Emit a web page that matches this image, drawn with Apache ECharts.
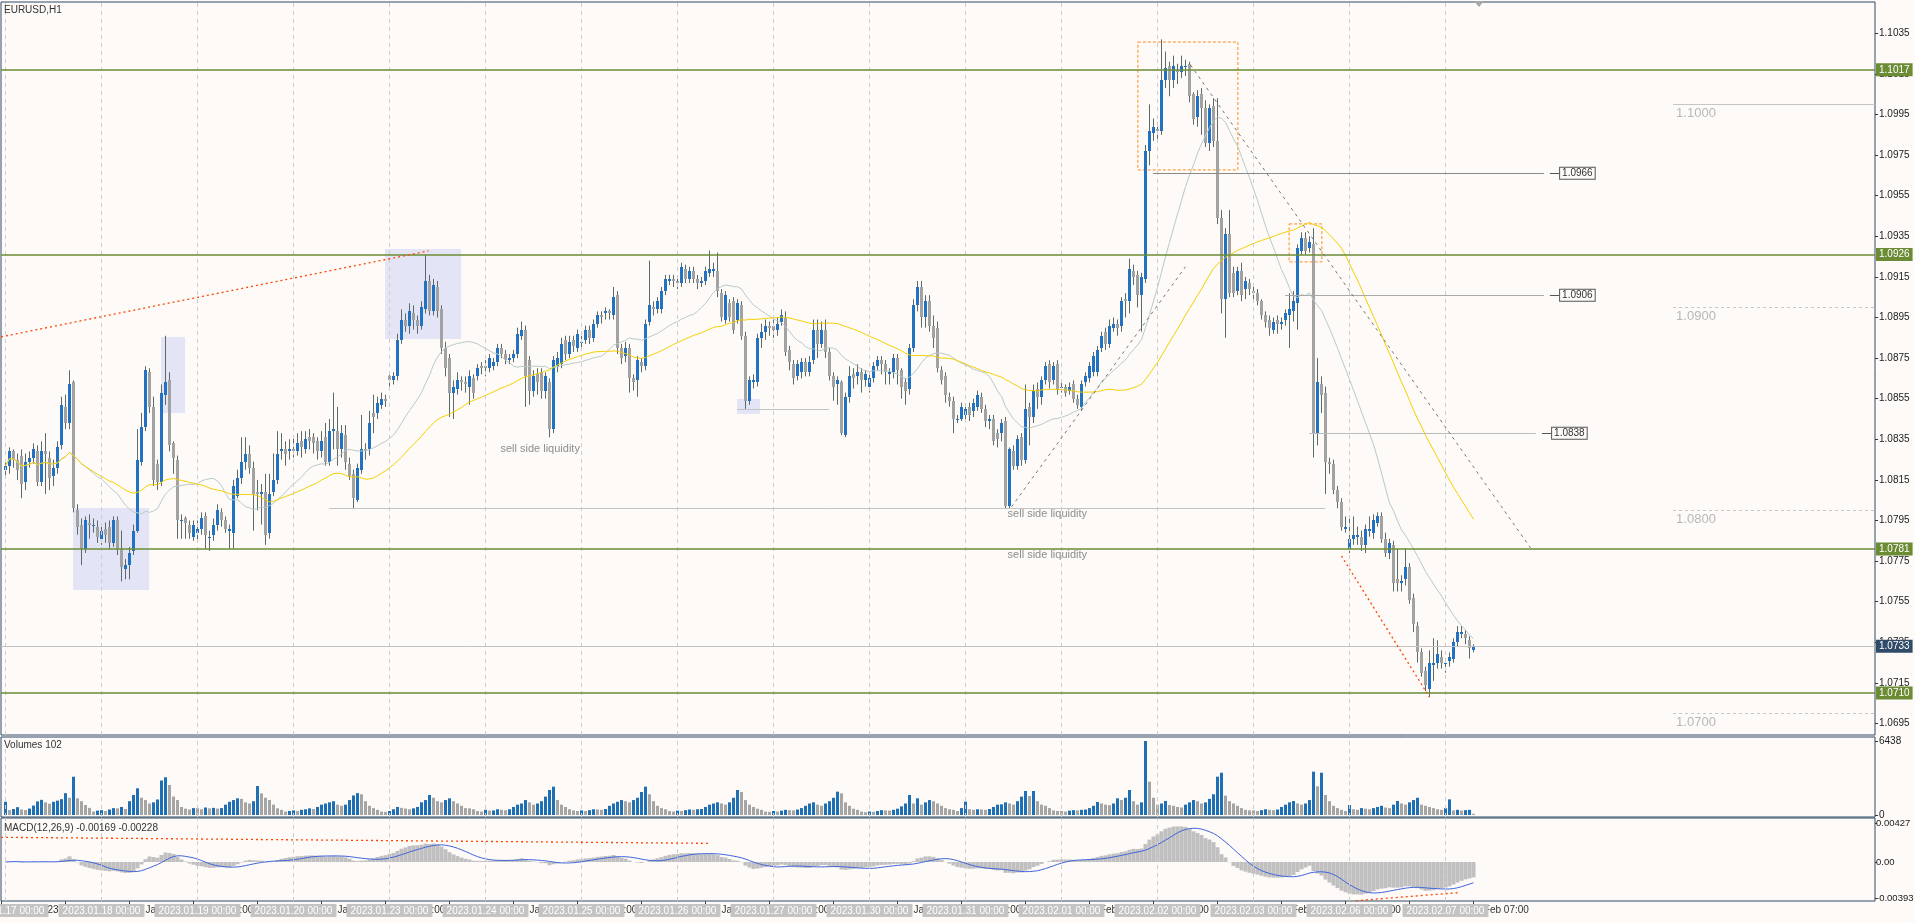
<!DOCTYPE html>
<html><head><meta charset="utf-8">
<script src="https://cdn.jsdelivr.net/npm/echarts@6/dist/echarts.min.js"></script>
<style>html,body{margin:0;padding:0;background:#fdfaf8;}#c{width:1915px;height:923px;}</style>
</head><body><div id="c"></div>
<script>
// ---- DATA (prices in pips above 1.0000, e.g. 822 = 1.0822) ----
const dayDates = ['2023.01.17','2023.01.18','2023.01.19','2023.01.20','2023.01.23','2023.01.24','2023.01.25','2023.01.26','2023.01.27','2023.01.30','2023.01.31','2023.02.01','2023.02.02','2023.02.03','2023.02.06','2023.02.07'];
const dayShort = ['17 Jan','18 Jan','19 Jan','20 Jan','23 Jan','24 Jan','25 Jan','26 Jan','27 Jan','30 Jan','31 Jan','1 Feb','2 Feb','3 Feb','6 Feb','7 Feb'];
const opens = [
820,822,829,825,827,814,824,826,829,814,829,826,817,821,832,851,843,863,800,793,781,794,793,792,
786,791,792,784,795,781,771,773,780,790,824,841,868,851,823,814,857,864,833,825,795,796,793,787,
789,791,797,787,788,793,799,795,790,789,807,816,824,828,821,809,808,809,789,809,815,829,830,829,
830,829,834,830,836,836,834,829,836,824,839,839,830,837,823,818,805,820,830,830,848,848,852,855,
866,864,866,884,894,891,897,894,891,899,913,898,910,899,880,875,858,860,864,863,861,865,866,871,
871,870,871,873,880,877,874,875,877,886,889,874,859,867,868,859,863,840,871,872,884,877,884,880,
883,884,889,885,892,896,897,898,896,906,880,876,880,865,864,873,871,893,900,899,899,908,913,914,
913,912,919,914,918,914,912,913,917,918,918,907,894,902,903,894,901,886,854,863,863,885,888,891,
891,889,893,895,879,872,866,868,873,868,874,889,882,889,878,866,862,863,837,856,867,866,868,864,
861,865,871,874,872,867,868,875,869,863,860,880,901,910,895,903,891,890,869,866,856,854,845,845,
847,851,849,851,856,850,844,845,838,838,844,802,829,822,836,825,851,846,860,856,864,872,864,872,
861,861,859,862,855,851,863,865,868,868,880,888,882,890,892,891,904,903,918,916,906,914,977,986,
988,987,1012,1019,1012,1017,1016,1019,1020,1005,994,1005,998,981,999,982,944,904,936,917,908,918,909,912,
908,907,903,896,894,889,894,892,894,896,898,902,928,934,929,931,838,862,858,824,823,810,804,791,
781,786,787,787,783,790,789,794,797,786,779,783,766,764,766,772,757,743,730,721,712,724,725,728,
725,726,727,735,739,739,736,731];
const closes = [
822,829,825,820,813,824,826,830,814,829,828,816,821,831,852,843,862,801,792,781,795,793,793,787,
790,788,784,795,781,772,773,779,790,825,841,869,851,815,814,858,863,832,826,795,795,794,789,793,
791,796,788,787,793,800,795,791,791,812,816,824,828,821,808,808,809,788,808,815,828,830,828,830,
829,833,831,835,834,833,829,834,824,839,840,830,838,824,817,806,821,830,829,843,846,853,855,854,
864,866,884,894,891,898,894,891,900,913,898,911,898,880,870,858,861,864,863,862,866,858,870,870,
870,875,873,880,877,874,875,877,887,889,866,859,866,863,859,866,840,874,875,882,877,883,881,887,
883,889,885,892,896,895,898,897,905,880,875,880,865,863,874,871,892,901,899,903,908,914,914,913,
912,920,914,918,914,912,913,918,919,919,908,895,906,895,889,902,886,854,864,864,885,888,891,890,
889,892,896,878,873,865,872,873,868,873,889,882,889,878,866,861,864,838,856,866,865,868,864,867,
865,871,874,872,868,868,875,869,861,859,880,901,910,895,903,891,885,870,864,857,854,845,845,851,
850,847,853,857,850,844,845,834,835,843,802,830,822,835,825,850,846,859,856,864,871,863,871,860,
861,858,861,855,852,862,866,871,876,879,886,882,891,892,890,903,903,919,915,906,915,977,987,989,
987,1012,1018,1012,1019,1016,1019,1019,1004,993,1004,998,981,998,982,944,904,936,907,907,918,906,913,909,
907,903,896,893,890,893,892,893,897,899,903,929,934,928,932,838,863,857,824,823,810,804,792,792,
786,788,788,783,791,791,795,797,786,779,784,764,764,765,772,756,744,730,720,714,725,725,729,725,
725,728,735,740,740,737,732,733];
const lows = [
817,818,821,815,806,810,821,823,812,812,808,810,812,818,830,840,840,799,788,773,779,786,789,784,
783,784,781,782,778,765,766,766,778,789,822,839,848,812,810,812,852,829,818,786,786,786,786,785,
785,788,781,780,785,790,792,789,781,781,806,813,820,818,790,800,793,783,786,807,813,825,822,825,
826,827,826,828,830,828,825,826,822,822,830,822,826,820,815,801,804,818,825,827,838,845,850,851,
861,862,864,882,888,887,889,887,889,897,896,896,895,877,866,846,845,857,859,858,852,855,864,867,
866,868,869,871,875,872,872,873,875,884,851,852,856,857,855,855,836,838,868,870,874,875,878,878,
880,882,882,883,890,892,894,894,894,877,872,873,858,859,856,868,869,891,896,897,897,906,911,910,
909,910,912,912,912,909,910,911,915,915,905,893,892,893,887,892,884,850,852,860,861,880,884,886,
885,886,891,876,869,862,864,865,866,866,872,875,880,875,864,854,852,837,836,853,860,862,858,861,
858,863,869,867,862,862,865,862,855,852,857,878,898,890,890,888,880,868,862,853,851,838,843,844,
845,844,846,849,848,841,840,832,831,834,801,801,820,820,822,823,832,843,850,852,862,860,862,857,
858,856,857,853,850,849,861,863,866,866,878,879,880,888,886,888,895,897,911,900,888,912,970,982,
983,985,1008,1004,1008,1010,1013,1014,1001,990,989,985,979,977,979,941,897,885,905,905,906,903,904,906,
903,901,894,890,886,887,887,889,891,880,893,889,926,926,927,826,832,848,808,818,808,801,790,789,
779,783,783,780,779,787,786,792,784,777,776,760,760,760,763,754,740,725,718,711,708,716,722,722,
720,723,725,733,737,734,727,730];
const highs = [
825,831,830,828,830,828,829,833,832,834,838,829,825,834,856,857,869,864,803,796,797,798,796,795,
793,794,795,797,797,790,776,782,793,840,848,871,870,856,825,862,886,868,834,827,798,797,795,795,
795,799,799,790,796,803,801,797,793,815,820,836,836,832,824,815,813,818,818,828,839,838,834,835,
836,838,839,839,840,838,836,839,843,845,858,851,842,842,826,820,823,847,833,849,857,856,858,857,
867,868,887,899,897,902,901,896,903,926,916,914,913,901,883,877,864,868,866,866,869,867,872,873,
874,877,875,882,882,879,877,879,890,893,891,876,869,870,870,868,865,876,878,885,886,886,886,889,
886,891,891,894,898,898,900,899,910,908,882,883,882,867,876,875,894,923,903,905,910,916,916,916,
915,922,921,920,920,916,915,920,928,922,927,909,908,904,905,904,903,888,866,867,887,892,894,893,
894,895,899,898,881,874,874,875,875,876,894,894,893,894,880,868,866,864,858,871,870,872,870,869,
867,873,876,876,874,870,877,877,870,865,882,904,913,913,906,906,896,893,871,868,858,856,847,853,
852,853,855,859,858,852,847,847,840,845,846,831,832,837,838,862,853,862,863,866,873,874,873,874,
863,862,863,864,857,864,868,873,878,881,888,890,894,895,894,905,907,924,921,918,917,980,1000,993,
991,1032,1026,1021,1024,1020,1024,1022,1021,1006,1007,1008,1002,1000,1003,1003,948,939,948,920,920,922,915,914,
911,909,904,898,896,895,896,895,899,907,908,931,937,937,935,939,875,866,861,826,825,812,806,797,
797,797,792,790,793,797,798,799,799,789,786,785,781,768,781,774,759,745,732,723,731,737,736,731,
727,730,737,743,743,741,738,734];
const volumes = [
1150,430,520,680,480,430,560,820,1180,1320,1100,980,1150,1250,1380,1900,1500,3330,1450,1200,870,620,300,380,
420,350,480,600,580,700,520,1200,1740,2320,1500,1300,1000,1100,1350,3000,3280,2610,1600,1300,700,550,480,600,
600,500,650,580,620,560,600,900,1150,1300,1450,1400,1100,1000,1200,2520,1880,1500,1300,900,580,450,300,350,
400,350,450,500,580,520,700,900,1000,1100,1200,900,800,900,1300,1700,1900,1800,1200,800,600,450,300,280,
350,500,700,620,560,500,580,700,1100,1300,1740,1500,1200,1100,1300,1450,1200,1000,800,600,580,500,350,300,
450,380,400,500,450,420,500,700,900,1000,1300,1100,900,1000,1200,1600,2175,2465,1300,900,700,500,400,350,
400,350,420,500,480,450,520,800,1000,1150,1300,1200,1100,1300,1500,2000,2465,1800,1200,800,600,500,350,300,
380,350,420,480,450,500,520,700,900,1000,1100,1000,900,1100,1500,2175,2000,1300,900,700,550,450,300,280,
350,300,380,450,420,400,480,600,800,1000,1100,900,800,1000,1200,1500,2030,1880,1100,800,550,450,300,250,
300,280,350,420,400,380,450,550,750,1000,1740,1000,1450,900,1100,1300,1200,1000,800,600,500,450,350,600,
1160,500,450,500,480,450,520,700,900,930,1100,1000,900,1200,1600,2090,1650,2090,1200,900,800,600,400,350,
350,300,380,420,400,450,480,600,800,1130,1000,900,850,1000,1450,1300,1500,2175,1200,900,1100,6438,2900,1500,
900,1000,1220,870,800,700,650,900,1100,1300,1200,1000,1100,1400,1800,3335,3680,1680,1200,1000,800,600,450,400,
400,350,420,500,450,420,480,700,900,1100,1220,1000,900,1000,1300,3770,2500,3680,1740,1200,800,600,450,350,
870,500,450,600,550,500,600,700,800,650,600,900,1220,1000,900,1100,1300,1500,900,800,700,600,500,450,
600,1360,400,450,380,420,450,102];
const priceTicks = [1.0695,1.0715,1.0735,1.0755,1.0775,1.0795,1.0815,1.0835,1.0855,1.0875,1.0895,1.0915,1.0935,1.0955,1.0975,1.0995,1.1015,1.1035];
const levelLines = [1.1017, 1.0926, 1.0781, 1.0710];
const lastPrice = 1.0733;
const roundLevels = [1.1000, 1.0900, 1.0800, 1.0700];

// ---- derived ----
const FONT = 'Liberation Sans, Arial, sans-serif';
const P = v => +(1 + v / 10000).toFixed(5);
const N = opens.length;
const candleData = opens.map((o, i) => [i, P(o), P(closes[i]), P(lows[i]), P(highs[i])]);
const closeP = closes.map(P);
function sma(arr, n) { return arr.map((_, i) => { const s = Math.max(0, i - n + 1); let t = 0; for (let k = s; k <= i; k++) t += arr[k]; return [i, t / (i - s + 1)]; }); }
function ema(arr, n) { const a = 2 / (n + 1); let e = arr[0]; return arr.map((v, i) => { e = i === 0 ? v : e + a * (v - e); return e; }); }
const ma20 = sma(closeP, 20), ma50 = sma(closeP, 50);
const e12 = ema(closeP, 12), e26 = ema(closeP, 26);
const macd = e12.map((v, i) => v - e26[i]);
const signal = sma(macd, 9);
const X0 = -1.125, X1 = 467.375;
const dayTicks = dayDates.map((_, d) => d * 24);
const nativeTicks = []; for (let k = 0; -1 + 16 * k < N; k++) nativeTicks.push(-1 + 16 * k);
const pad = h => (h < 10 ? '0' : '') + h;
function nativeLabel(v) { if (v < 0) return '17 Jan 2023'; const d = Math.floor(v / 24), h = v % 24; return dayShort[d] + ' ' + pad(h) + ':00'; }

const vline = { symbol: ['none', 'none'], silent: true, animation: false, precision: 6, label: { show: false },
  lineStyle: { color: '#cdcdcd', type: [4, 4], width: 1 }, data: dayTicks.map(v => ({ xAxis: v })) };
const seg = (x1, y1, x2, y2, color, type, width, label) => [
  { coord: [x1, y1], lineStyle: { color, type: type || 'solid', width: width || 1 }, label: label || { show: false } },
  { coord: [x2, y2] }];
const boxLabel = t => ({ show: true, position: 'end', distance: 1, formatter: t, color: '#333', fontSize: 10, fontFamily: FONT,
  borderColor: '#555', borderWidth: 1, padding: [1, 2, 0, 2], backgroundColor: '#fdfaf8' });
const roundLabel = t => ({ show: true, position: 'insideStartBottom', distance: 3, formatter: t, color: '#b8b8b8', fontSize: 13, fontFamily: FONT });
const txt = (x, y, t) => ({ coord: [x, y], symbol: 'rect', symbolSize: 1, itemStyle: { color: 'rgba(0,0,0,0)' },
  label: { show: true, position: 'right', distance: 0, formatter: t, color: '#8e8e8e', fontSize: 11, fontFamily: FONT } });

const gridBase = { left: 1, width: 1874, show: true, borderColor: '#2f4a66', borderWidth: 1, backgroundColor: 'transparent', containLabel: false, outerBoundsMode: 'none' };
const noLine = { show: false, onZero: false };
const chart = echarts.init(document.getElementById('c'));
chart.setOption({
  animation: false,
  backgroundColor: '#fdfaf8',
  textStyle: { fontFamily: FONT },
  title: [
    { text: 'EURUSD,H1', left: 4, top: 5, padding: 0, textStyle: { fontSize: 10, fontWeight: 'normal', color: '#333', fontFamily: FONT } },
    { text: 'Volumes 102', left: 4, top: 740, padding: 0, textStyle: { fontSize: 10, fontWeight: 'normal', color: '#333', fontFamily: FONT } },
    { text: 'MACD(12,26,9) -0.00169 -0.00228', left: 4, top: 823, padding: 0, textStyle: { fontSize: 10, fontWeight: 'normal', color: '#333', fontFamily: FONT } }
  ],
  grid: [
    Object.assign({ top: 2, height: 733 }, gridBase),
    Object.assign({ top: 737, height: 80 }, gridBase),
    Object.assign({ top: 818, height: 83 }, gridBase)
  ],
  xAxis: [
    { type: 'value', gridIndex: 0, position: 'bottom', min: X0, max: X1, show: false, axisLine: noLine },
    { type: 'value', gridIndex: 1, position: 'bottom', min: X0, max: X1, show: false, axisLine: noLine },
    { type: 'value', gridIndex: 2, position: 'bottom', min: X0, max: X1, z: 2, axisLine: noLine, splitLine: { show: false },
      axisTick: { show: true, customValues: nativeTicks, length: 3, lineStyle: { color: '#444' } },
      axisLabel: { customValues: nativeTicks, formatter: nativeLabel, align: 'left', fontSize: 10, color: '#333', margin: 4, padding: [0, 0, 0, 2], fontFamily: FONT } },
    { type: 'value', gridIndex: 2, position: 'bottom', offset: 0, min: X0, max: X1, z: 10, axisLine: noLine, splitLine: { show: false }, axisTick: { show: false },
      axisLabel: { customValues: dayTicks, formatter: v => dayDates[Math.round(v / 24)] + ' 00:00', align: 'center', fontSize: 10, color: '#fff',
        backgroundColor: '#c4c4c4', padding: [2, 4, 1, 4], margin: 3, fontFamily: FONT } }
  ],
  yAxis: [
    { type: 'value', gridIndex: 0, position: 'right', min: 1.068933, max: 1.105042, splitLine: { show: false }, axisLine: noLine,
      axisTick: { show: true, customValues: priceTicks, length: 3, lineStyle: { color: '#333' } },
      axisLabel: { customValues: priceTicks, formatter: v => v.toFixed(4), fontSize: 10, color: '#222', margin: 4, fontFamily: FONT } },
    { type: 'value', gridIndex: 1, position: 'right', min: -174, max: 6786, splitLine: { show: false }, axisLine: noLine,
      axisTick: { show: true, customValues: [0, 6438], length: 3, lineStyle: { color: '#333' } },
      axisLabel: { customValues: [0, 6438], formatter: v => String(Math.round(v)), fontSize: 10, color: '#222', margin: 4, fontFamily: FONT } },
    { type: 'value', gridIndex: 2, position: 'right', min: -0.004264, max: 0.004811, splitLine: { show: false }, axisLine: noLine,
      axisTick: { show: true, customValues: [-0.00393, 0, 0.00427], length: 2, lineStyle: { color: '#333' } },
      axisLabel: { customValues: [-0.00393, 0, 0.00427], formatter: v => Math.abs(v) < 1e-9 ? '0.00' : v.toFixed(5), fontSize: 9.5, color: '#222', margin: 1, fontFamily: FONT } }
  ],
  series: [
    { // background objects
      type: 'line', xAxisIndex: 0, yAxisIndex: 0, data: [], z: 1, silent: true,
      markArea: { silent: true, animation: false, data: [
        [{ coord: [38.9, 1.08854], itemStyle: { color: '#e3e5f7' } }, { coord: [44.9, 1.08479] }],
        [{ coord: [16.9, 1.08012], itemStyle: { color: '#e3e5f7' } }, { coord: [35.9, 1.07608] }],
        [{ coord: [94.9, 1.09287], itemStyle: { color: '#e3e5f7' } }, { coord: [113.9, 1.08844] }],
        [{ coord: [182.9, 1.08549], itemStyle: { color: '#e3e5f7' } }, { coord: [188.6, 1.08475] }]
      ] },
      markLine: vline,
      markPoint: { silent: true, animation: false, data: [
        txt(123.6, 1.08302, 'sell side liquidity'),
        txt(250.4, 1.07982, 'sell side liquidity'),
        txt(250.4, 1.07779, 'sell side liquidity')
      ] }
    },
    { // candles
      type: 'custom', xAxisIndex: 0, yAxisIndex: 0, z: 2, clip: true, data: candleData,
      encode: { x: 0, y: [1, 2, 3, 4] },
      renderItem: (params, api) => {
        const i = api.value(0), o = api.value(1), c = api.value(2), l = api.value(3), h = api.value(4);
        const po = api.coord([i, o]), pc = api.coord([i, c]), pl = api.coord([i, l]), ph = api.coord([i, h]);
        const xx = Math.round(po[0] - 0.5) + 0.5;
        const top = Math.round(Math.min(po[1], pc[1])), bot = Math.round(Math.max(po[1], pc[1]));
        return { type: 'group', children: [
          { type: 'line', shape: { x1: xx, y1: ph[1], x2: xx, y2: pl[1] }, style: { stroke: '#5d6a6a', lineWidth: 1 } },
          { type: 'rect', shape: { x: xx - 1.5, y: top, width: 3, height: Math.max(1, bot - top) }, style: { fill: c >= o ? '#2172c2' : '#a2a2a2' } }
        ] };
      }
    },
    { type: 'line', xAxisIndex: 0, yAxisIndex: 0, data: ma20, showSymbol: false, symbol: 'none', z: 3, lineStyle: { color: '#b7cbc8', width: 1 }, silent: true },
    { type: 'line', xAxisIndex: 0, yAxisIndex: 0, data: ma50, showSymbol: false, symbol: 'none', z: 3, lineStyle: { color: '#f5d000', width: 1 }, silent: true },
    { // foreground objects
      type: 'line', xAxisIndex: 0, yAxisIndex: 0, data: [], z: 5, silent: true,
      markArea: { silent: true, animation: false, data: [
        [{ coord: [283.1, 1.10307], itemStyle: { color: 'rgba(0,0,0,0)', borderColor: '#ff8c1a', borderWidth: 1, borderType: [3, 2] } }, { coord: [308.1, 1.09677] }],
        [{ coord: [320.9, 1.09411], itemStyle: { color: 'rgba(0,0,0,0)', borderColor: '#ff8c1a', borderWidth: 1, borderType: [3, 2] } }, { coord: [329.1, 1.09224] }]
      ] },
      markLine: { symbol: ['none', 'none'], silent: true, animation: false, precision: 6, data: [
        ...levelLines.map(v => ({ yAxis: v, lineStyle: { color: '#6b8c35', width: 1.5, type: 'solid' },
          label: { show: true, position: 'end', distance: 1, formatter: v.toFixed(4), color: '#fff', backgroundColor: '#6b8c35', padding: [2, 3, 1, 3], fontSize: 10, fontFamily: FONT } })),
        { yAxis: lastPrice, lineStyle: { color: '#c2c2c2', width: 1, type: 'solid' },
          label: { show: true, position: 'end', distance: 1, formatter: lastPrice.toFixed(4), color: '#fff', backgroundColor: '#2f4b68', padding: [2, 3, 1, 3], fontSize: 10, fontFamily: FONT } },
        seg(286.9, 1.0966, 384.6, 1.0966, '#8a8a8a', 'solid', 1.2),
        seg(386.1, 1.0966, 388.4, 1.0966, '#555', 'solid', 1, boxLabel('1.0966')),
        seg(319.9, 1.0906, 384.6, 1.0906, '#a9a9a9', 'solid', 1.2),
        seg(386.1, 1.0906, 388.4, 1.0906, '#555', 'solid', 1, boxLabel('1.0906')),
        seg(325.9, 1.0838, 382.6, 1.0838, '#bcbcbc', 'solid', 1.2),
        seg(384.1, 1.0838, 386.4, 1.0838, '#555', 'solid', 1, boxLabel('1.0838')),
        seg(182.9, 1.0850, 205.9, 1.0850, '#c4c4c4', 'solid', 1),
        seg(80.9, 1.08012, 329.9, 1.08012, '#c4c4c4', 'solid', 1),
        seg(416.9, roundLevels[0], X1, roundLevels[0], '#c6c6c6', 'solid', 1, roundLabel('1.1000')),
        seg(416.9, roundLevels[1], X1, roundLevels[1], '#c6c6c6', [3, 3], 1, roundLabel('1.0900')),
        seg(416.9, roundLevels[2], X1, roundLevels[2], '#c6c6c6', [3, 3], 1, roundLabel('1.0800')),
        seg(416.9, roundLevels[3], X1, roundLevels[3], '#c6c6c6', [3, 3], 1, roundLabel('1.0700')),
        seg(X0, 1.088545, 105.75, 1.09278, '#ff4500', [2, 3], 1.3),
        seg(334, 1.07775, 356, 1.0708, '#ff4500', [2, 3], 1.3),
        seg(296.25, 1.10194, 381.25, 1.07815, '#777', [3, 4], 1),
        seg(251.5, 1.08017, 295, 1.0920, '#777', [3, 4], 1)
      ] }
    },
    { // volumes
      type: 'bar', xAxisIndex: 1, yAxisIndex: 1, barWidth: 3, z: 2, silent: true,
      data: volumes.map((v, i) => ({ value: [i, v], itemStyle: { color: (i === 0 || v > volumes[i - 1]) ? '#1f6fb5' : '#a5a5a5' } })),
      markLine: vline
    },
    { // MACD main (histogram)
      type: 'bar', xAxisIndex: 2, yAxisIndex: 2, barWidth: 4, z: 2, silent: true,
      itemStyle: { color: '#c0c0c0' },
      data: macd.map((v, i) => [i, v]),
      markLine: vline
    },
    { // MACD signal
      type: 'line', xAxisIndex: 2, yAxisIndex: 2, data: signal, showSymbol: false, symbol: 'none', z: 3, silent: true,
      lineStyle: { color: '#3f63dc', width: 1 },
      markLine: { symbol: ['none', 'none'], silent: true, animation: false, precision: 8, data: [
        seg(X0, 0.0027, 176, 0.00204, '#ff4500', [2, 3], 1.3),
        seg(337.6, -0.00423, 363, -0.00336, '#ff4500', [2, 3], 1.3)
      ] }
    }
  ],
  graphic: [
    { type: 'polygon', shape: { points: [[1474, 1], [1484, 1], [1479, 7]] }, style: { fill: '#a8a8a8' }, silent: true }
  ]
});
</script></body></html>
